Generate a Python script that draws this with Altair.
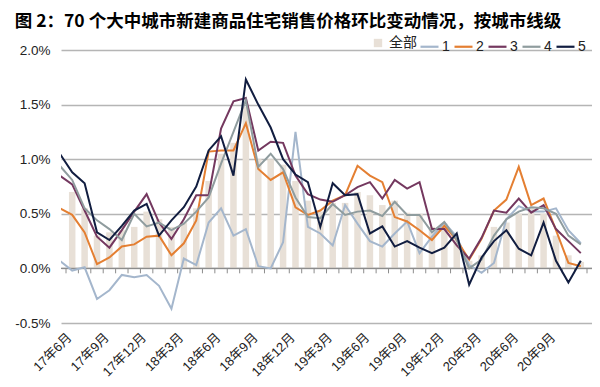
import json
import altair as alt
import pandas as pd

months = ["17年5月", "17年6月", "17年7月", "17年8月", "17年9月", "17年10月", "17年11月", "17年12月",
          "18年1月", "18年2月", "18年3月", "18年4月", "18年5月", "18年6月", "18年7月", "18年8月",
          "18年9月", "18年10月", "18年11月", "18年12月",
          "19年1月", "19年2月", "19年3月", "19年4月", "19年5月", "19年6月", "19年7月", "19年8月",
          "19年9月", "19年10月", "19年11月", "19年12月",
          "20年1月", "20年2月", "20年3月", "20年4月", "20年5月", "20年6月", "20年7月", "20年8月",
          "20年9月", "20年10月", "20年11月"]

# line series, one value per month in `months` (first month lies just left of the plot and is clipped)
tier1 = [0.07, -0.02, 0.01, -0.28, -0.20, -0.06, -0.08, -0.06, -0.16, -0.37, 0.09, 0.03, 0.42, 0.55,
         0.30, 0.36, 0.02, 0.00, 0.24, 1.25, 0.38, 0.32, 0.21, 0.58, 0.41, 0.25, 0.20, 0.32, 0.43,
         0.14, 0.29, 0.42, 0.29, 0.03, -0.04, 0.05, 0.45, 0.57, 0.52, 0.52, 0.55, 0.35, 0.23]
tier2 = [0.55, 0.49, 0.33, 0.04, 0.10, 0.20, 0.22, 0.29, 0.30, 0.12, 0.23, 0.44, 1.07, 1.08, 1.08,
         1.33, 0.91, 0.81, 0.88, 0.56, 0.49, 0.53, 0.62, 0.67, 0.94, 0.85, 0.79, 0.47, 0.43, 0.35,
         0.26, 0.39, 0.26, 0.08, 0.27, 0.53, 0.63, 0.93, 0.58, 0.64, 0.35, 0.05, 0.02]
tier3 = [0.85, 0.77, 0.53, 0.29, 0.19, 0.35, 0.52, 0.68, 0.42, 0.27, 0.45, 0.67, 0.67, 1.28, 1.53,
         1.56, 1.08, 1.16, 1.15, 0.85, 0.68, 0.63, 0.61, 0.67, 0.745, 0.79, 0.64, 0.81, 0.73, 0.79,
         0.36, 0.36, 0.21, 0.09, 0.28, 0.53, 0.51, 0.64, 0.51, 0.58, 0.36, 0.25, 0.14]
tier4 = [0.94, 0.81, 0.55, 0.44, 0.36, 0.26, 0.50, 0.385, 0.42, 0.35, 0.41, 0.52, 0.65, 0.96, 1.25,
         1.54, 0.93, 1.05, 0.91, 0.65, 0.47, 0.46, 0.59, 0.49, 0.52, 0.53, 0.48, 0.61, 0.49, 0.49,
         0.33, 0.425, 0.26, 0.00, 0.08, 0.30, 0.45, 0.52, 0.56, 0.55, 0.50, 0.30, 0.22]
tier5 = [1.05, 0.88, 0.78, 0.33, 0.26, 0.39, 0.53, 0.59, 0.30, 0.44, 0.56, 0.75, 1.08, 1.21, 0.85,
         1.73, 1.50, 1.29, 1.00, 0.86, 0.79, 0.38, 0.78, 0.67, 0.68, 0.32, 0.385, 0.20, 0.25, 0.19,
         0.14, 0.19, 0.32, -0.15, 0.10, 0.25, 0.35, 0.18, 0.12, 0.42, 0.07, -0.13, 0.07]

# bars: all 70 cities, from 17年6月 to 20年11月
bar_all = [0.70, 0.55, 0.30, 0.33, 0.35, 0.38, 0.52, 0.45, 0.38, 0.42, 0.55, 0.80, 1.05, 1.15, 1.48,
           1.00, 1.00, 0.95, 0.80, 0.62, 0.52, 0.60, 0.60, 0.70, 0.67, 0.58, 0.62, 0.51, 0.50, 0.38,
           0.41, 0.26, 0.07, 0.12, 0.38, 0.42, 0.50, 0.55, 0.50, 0.30, 0.12, 0.06]

series_names = ["1", "2", "3", "4", "5"]
series_colors = ["#a4b6cc", "#e47f32", "#74385f", "#8f9c9e", "#111d40"]
bar_name = "全部"
bar_color = "#e8e0d7"

y_ticks = [-0.5, 0.0, 0.5, 1.0, 1.5, 2.0]
y_labels = ["-0.5%", "0.0%", "0.5%", "1.0%", "1.5%", "2.0%"]

line_rows = []
for name, vals in zip(series_names, [tier1, tier2, tier3, tier4, tier5]):
    for k, v in enumerate(vals):
        line_rows.append({"idx": k, "month": months[k], "series": name, "value": v})
line_df = pd.DataFrame(line_rows)

bar_df = pd.DataFrame([{"idx": k + 1, "month": months[k + 1], "group": bar_name, "value": v}
                       for k, v in enumerate(bar_all)])

# month boundaries for the tick marks on the zero line
bound_df = pd.DataFrame({"b": [k + 0.5 for k in range(len(months))]})
zero_df = pd.DataFrame({"y": [0.0]})

FONT = "Liberation Sans, Noto Sans CJK SC"
x_scale = alt.Scale(domain=[0.5, len(months) - 0.5], nice=False, zero=False)
y_scale = alt.Scale(domain=[-0.5, 2.0], nice=False)

y_axis = alt.Axis(values=y_ticks,
                  labelExpr=f"{json.dumps(y_labels)}[round((datum.value + 0.5) * 2)]",
                  grid=True, gridColor="#b5b5b5", gridWidth=1.6, domain=False, ticks=False,
                  labelPadding=11, labelFontSize=13.5, labelFont=FONT, labelColor="#222222",
                  title=None)

label_axis = alt.Axis(orient="bottom", values=list(range(1, len(months), 3)),
                      labelExpr=f"{json.dumps(months, ensure_ascii=False)}[datum.value]",
                      labelAngle=-45, labelAlign="right", labelBaseline="middle",
                      ticks=False, tickSize=0, domain=False, grid=False, labelPadding=12,
                      labelOffset=-3, labelFontSize=13, labelFont=FONT, labelColor="#222222",
                      labelOverlap=False, title=None)

bars = alt.Chart(bar_df).mark_bar(size=6.5).encode(
    x=alt.X("idx:Q", scale=x_scale, axis=label_axis),
    y=alt.Y("value:Q", scale=y_scale, axis=y_axis),
    fill=alt.Fill("group:N", scale=alt.Scale(domain=[bar_name], range=[bar_color]),
                  legend=alt.Legend(orient="none", legendX=310, legendY=-14, title=None,
                                    symbolType="square", symbolSize=70, labelFontSize=14,
                                    labelFont=FONT, labelColor="#222222", padding=0,
                                    labelOffset=4)),
)

zero_line = alt.Chart(zero_df).mark_rule(color="#8c8c8c", strokeWidth=1.2).encode(
    y=alt.Y("y:Q", scale=y_scale),
)

zero_ticks = alt.Chart(bound_df).mark_rule(color="#8c8c8c", strokeWidth=1).encode(
    x=alt.X("b:Q", scale=x_scale),
    y=alt.datum(0.0),
    y2=alt.datum(-0.045),
)

lines = alt.Chart(line_df).mark_line(strokeWidth=2, clip=True).encode(
    x=alt.X("idx:Q", scale=x_scale),
    y=alt.Y("value:Q", scale=y_scale),
    stroke=alt.Stroke("series:N", scale=alt.Scale(domain=series_names, range=series_colors),
                      legend=alt.Legend(orient="none", legendX=358, legendY=-14, title=None,
                                        direction="horizontal", columns=5,
                                        symbolType="stroke", symbolSize=324,
                                        symbolStrokeWidth=2.2, labelFontSize=14,
                                        labelFont=FONT, labelColor="#222222", padding=0,
                                        labelOffset=2, columnPadding=0)),
    order="idx:Q",
)

chart = alt.layer(bars, zero_line, zero_ticks, lines).resolve_scale(
    fill="independent", stroke="independent"
).properties(
    width=531, height=273,
    autosize=alt.AutoSizeParams(type="none"),
    padding={"left": 53, "top": 42, "right": 0, "bottom": 56},
    title=alt.Title("图 2：70 个大中城市新建商品住宅销售价格环比变动情况，按城市线级",
                    anchor="start", fontSize=17.5, fontWeight="bold",
                    font="Noto Sans CJK SC", color="#000000", offset=6),
).configure_view(stroke=None)

chart.save("out.html", embed_options={"renderer": "svg", "actions": False})
